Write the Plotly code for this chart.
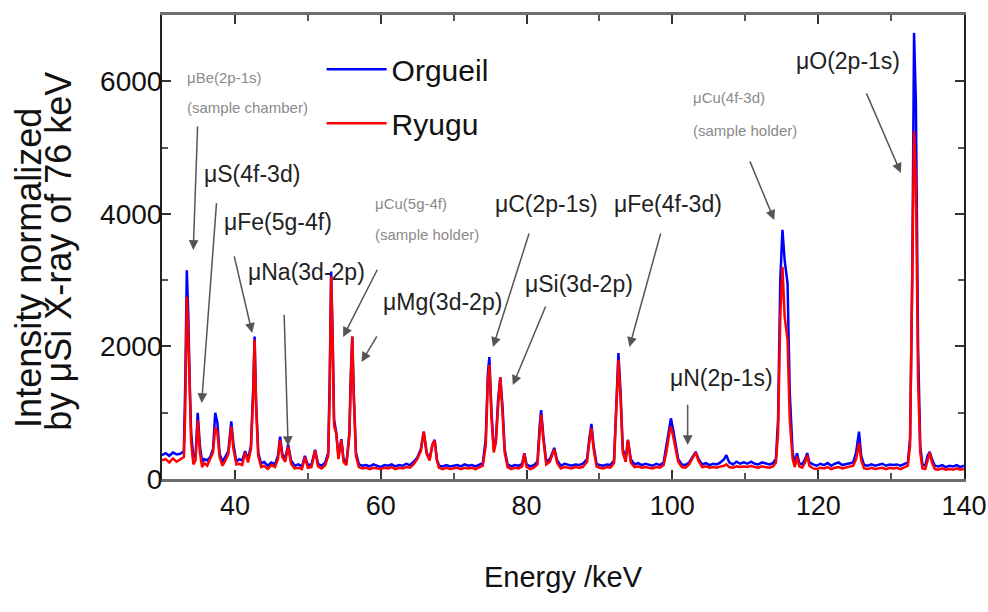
import plotly.graph_objects as go

# ---------------- data ----------------
energy = [
    30.0, 30.5, 31.0, 31.5, 32.0, 32.5, 33.0,
    33.2, 33.4, 33.6, 33.8, 34.0, 34.3, 34.6, 34.9, 35.2, 35.5, 35.8, 36.2, 36.6, 37.0,
    37.3, 37.6, 37.9, 38.3, 38.7, 39.1, 39.5, 39.8, 40.2, 40.6, 41.0, 41.4, 41.8,
    42.2, 42.5, 42.7, 42.9, 43.2, 43.6, 44.0, 44.5, 45.0, 45.5, 45.9, 46.2, 46.5, 46.9,
    47.3, 47.7, 48.2, 48.7, 49.2, 49.6, 50.0, 50.5, 51.0, 51.4, 51.9, 52.4, 52.8,
    53.0, 53.2, 53.4, 53.6, 53.9, 54.2, 54.6, 54.9, 55.3, 55.7, 55.9, 56.1, 56.3, 56.6, 57.0,
    57.5, 58.0, 58.5, 59.0, 59.5, 60.0, 60.5, 61.0, 61.5, 62.0, 62.5, 63.0, 63.5, 64.0,
    64.5, 65.0, 65.5, 65.9, 66.3, 66.7, 67.1, 67.4, 67.7, 68.0,
    68.5, 69.0, 69.5, 70.0, 70.5, 71.0, 71.5, 72.0, 72.5, 73.0, 73.5, 74.0,
    74.4, 74.7, 74.9, 75.2, 75.5, 75.8, 76.1, 76.4, 76.7, 77.0, 77.4, 77.9, 78.4, 78.9, 79.4,
    79.7, 80.0, 80.5, 81.0, 81.5, 81.8, 82.0, 82.3, 82.7, 83.2, 83.8, 84.2, 84.7, 85.2, 85.7,
    86.2, 86.7, 87.2, 87.7, 88.3, 88.6, 88.9, 89.2, 89.6, 90.0, 90.5, 91.0, 91.5,
    92.0, 92.3, 92.6, 92.9, 93.2, 93.6, 93.9, 94.3, 94.8, 95.3, 95.8, 96.3, 96.8, 97.3, 97.8,
    98.3, 98.8, 99.2, 99.6, 99.8, 100.1, 100.4, 100.8, 101.3, 101.8, 102.3, 102.8, 103.2, 103.6, 104.1,
    104.6, 105.1, 105.6, 106.1, 106.6, 107.1, 107.4, 107.8, 108.3, 108.8, 109.3, 109.8, 110.3, 110.8, 111.3,
    111.8, 112.3, 112.8, 113.3, 113.8, 114.2,
    114.5, 114.8, 115.1, 115.4, 115.8, 116.1, 116.5, 116.8, 117.1, 117.4, 117.8, 118.2, 118.5, 118.8, 119.3,
    119.8, 120.3, 120.8, 121.3, 121.8, 122.3, 122.8, 123.3, 123.8, 124.3, 124.8, 125.2, 125.6, 125.9, 126.3,
    126.8, 127.3, 127.8, 128.3, 128.8, 129.3, 129.8, 130.3, 130.8, 131.3, 131.8, 132.3,
    132.6, 132.9, 133.15, 133.4, 133.7, 134.0, 134.3, 134.7, 135.0, 135.3, 135.6, 136.0, 136.5, 137.0, 137.5,
    138.0, 138.5, 139.0, 139.5, 140.0,
]

orgueil = [
    360, 390, 350, 400, 370, 380, 420,
    1500, 3150, 2500, 1450, 700, 320, 350, 1000, 500, 260, 300, 280, 330, 450,
    1000, 850, 380, 260, 330, 420, 870, 520, 260, 300, 280, 420, 300,
    500, 1350, 2150, 1200, 400, 230, 260, 200, 250, 220, 350, 640, 380, 300,
    520, 280, 200, 220, 190, 350, 210, 220, 440, 230, 200, 250, 400,
    1500, 3130, 2200, 900, 700, 350, 600, 300, 250, 700, 1600, 2150, 1300, 400, 220,
    200, 210, 190, 220, 200, 180, 210, 200, 220, 190, 210, 200, 230, 210,
    260, 320, 450, 715, 400, 300, 520, 590, 300, 200,
    190, 210, 190, 200, 210, 190, 220, 200, 210, 190, 220, 240,
    600, 1600, 1840, 1000, 450, 600, 1200, 1535, 1100, 450, 220, 190, 210, 200, 230,
    390, 220, 190, 210, 260, 800, 1040, 650, 260, 300, 470, 280, 200, 230, 210,
    200, 220, 210, 230, 300, 600, 830, 500, 230, 210, 200, 220, 210,
    280, 1100, 1900, 1300, 450, 300, 590, 300, 220, 240, 210, 230, 220, 200, 230,
    210, 250, 500, 800, 915, 750, 550, 300, 220, 210, 250, 350, 410, 300, 220,
    240, 210, 230, 220, 250, 300, 360, 250, 220, 260, 230, 250, 230, 260, 230,
    220, 250, 230, 220, 240, 300,
    900, 3000, 3760, 3300, 2950, 1300, 400, 230, 390, 240, 220, 300, 390, 250, 220,
    200, 230, 210, 240, 200, 230, 250, 210, 220, 240, 250, 400, 715, 350, 210,
    200, 220, 200, 210, 230, 200, 220, 210, 220, 200, 220, 250,
    600, 3000, 6730, 5680, 2000, 500, 220, 200, 350, 410, 300, 200, 190, 210, 180,
    200, 190, 210, 180, 200,
]

ryugu = [
    280, 300, 250, 310, 260, 300, 330,
    1100, 2750, 2200, 1200, 550, 220, 280, 890, 400, 180, 240, 200, 290, 400,
    780, 700, 330, 200, 280, 380, 790, 450, 220, 230, 210, 400, 250,
    450, 1250, 2100, 1100, 350, 180, 200, 150, 210, 180, 300, 590, 330, 260,
    490, 230, 160, 170, 150, 330, 170, 180, 430, 190, 160, 210, 350,
    1300, 3050, 2100, 800, 690, 300, 590, 260, 210, 650, 1500, 2150, 1250, 350, 180,
    160, 170, 150, 170, 160, 150, 170, 160, 180, 150, 170, 160, 180, 170,
    220, 300, 420, 715, 380, 280, 520, 580, 280, 170,
    150, 170, 150, 160, 170, 150, 170, 160, 170, 150, 180, 200,
    500, 1500, 1720, 900, 400, 550, 1100, 1535, 1000, 400, 180, 150, 170, 160, 190,
    380, 180, 150, 170, 220, 700, 970, 600, 220, 260, 450, 240, 160, 180, 170,
    160, 180, 170, 180, 260, 550, 770, 450, 190, 170, 160, 180, 170,
    240, 1000, 1800, 1200, 400, 260, 590, 250, 180, 190, 170, 180, 170, 160, 180,
    170, 210, 420, 700, 790, 650, 480, 260, 180, 170, 220, 330, 400, 270, 180,
    190, 170, 180, 170, 190, 200, 220, 180, 170, 190, 180, 190, 180, 200, 180,
    170, 190, 180, 170, 190, 250,
    700, 2450, 3200, 2450, 2100, 900, 300, 180, 340, 190, 170, 250, 360, 200, 160,
    150, 170, 160, 180, 150, 170, 180, 160, 170, 180, 200, 300, 540, 280, 160,
    150, 170, 150, 160, 170, 150, 170, 160, 170, 150, 170, 200,
    500, 2700, 5245, 4490, 1500, 400, 160, 150, 300, 400, 250, 150, 140, 160, 140,
    150, 140, 160, 140, 150,
]

series_names = ["Orgueil", "Ryugu"]
x_title = "Energy /keV"
y_title_lines = ["Intensity normalized", "by \u03bcSi X-ray of 76 keV"]

assert len(energy) == len(orgueil) == len(ryugu)

# ---------------- styling ----------------
FONT = "Liberation Sans, Arial, sans-serif"

fig = go.Figure()
fig.add_trace(go.Scatter(x=energy, y=orgueil, mode="lines", name=series_names[0],
                         legendgroup="a", line=dict(color="#0000ff", width=2.5)))
fig.add_trace(go.Scatter(x=energy, y=ryugu, mode="lines", name=series_names[1],
                         legendgroup="b", line=dict(color="#ff0000", width=2.5)))

# peak labels: (text, x, y, anchor, size, color)
SMALL, BIG, GREY, DARK = 15, 23, "#8a8a8a", "#222"
labels = [
    ("\u03bcBe(2p-1s)", 33.15, 6051, "left", SMALL, GREY),
    ("(sample chamber)", 33.15, 5606, "left", SMALL, GREY),
    ("\u03bcS(4f-3d)", 42.4, 4602, "center", BIG, DARK),
    ("\u03bcFe(5g-4f)", 45.93, 3878, "center", BIG, DARK),
    ("\u03bcNa(3d-2p)", 49.82, 3116, "center", BIG, DARK),
    ("\u03bcCu(5g-4f)", 58.9, 4150, "left", SMALL, GREY),
    ("(sample holder)", 58.9, 3682, "left", SMALL, GREY),
    ("\u03bcMg(3d-2p)", 60.1, 2663, "left", BIG, DARK),
    ("\u03bcC(2p-1s)", 82.74, 4150, "center", BIG, DARK),
    ("\u03bcSi(3d-2p)", 87.26, 2935, "center", BIG, DARK),
    ("\u03bcFe(4f-3d)", 99.42, 4150, "center", BIG, DARK),
    ("\u03bcN(2p-1s)", 106.78, 1524, "center", BIG, DARK),
    ("\u03bcCu(4f-3d)", 102.52, 5749, "left", SMALL, GREY),
    ("(sample holder)", 102.52, 5256, "left", SMALL, GREY),
    ("\u03bcO(2p-1s)", 124.1, 6308, "center", BIG, DARK),
]

# arrows: (tail x, tail y, tip x, tip y)
arrows = [
    (34.89, 5342, 34.29, 3456),
    (37.49, 4184, 35.44, 1147),
    (39.86, 3380, 42.37, 2203),
    (46.75, 2500, 47.30, 498),
    (59.63, 3179, 54.84, 2143),
    (59.59, 2173, 57.36, 1766),
    (80.41, 3727, 75.40, 1992),
    (82.70, 2626, 78.12, 1418),
    (98.45, 3727, 94.11, 1992),
    (102.10, 1142, 102.10, 513),
    (110.55, 4814, 113.97, 3908),
    (126.53, 5840, 131.33, 4618),
]

annotations = []
for t, x, y, anc, size, col in labels:
    annotations.append(dict(text=t, x=x, y=y, xref="x", yref="y", showarrow=False,
                            xanchor=anc, yanchor="middle",
                            font=dict(family=FONT, size=size, color=col)))
for tx, ty, hx, hy in arrows:
    annotations.append(dict(text="", x=hx, y=hy, ax=tx, ay=ty, xref="x", yref="y",
                            axref="x", ayref="y", showarrow=True, arrowhead=2,
                            arrowsize=1.3, arrowwidth=1.5, arrowcolor="#555",
                            standoff=0, startstandoff=0))

# two-line y title (plot area spans page px 162..964 horizontally)
annotations.append(dict(text=y_title_lines[0], xref="paper", yref="paper",
                        x=(29 - 162) / 802, y=0.455, textangle=-90, showarrow=False,
                        xanchor="center", yanchor="middle",
                        font=dict(family=FONT, size=36, color="#111")))
annotations.append(dict(text=y_title_lines[1], xref="paper", yref="paper",
                        x=(59 - 162) / 802, y=0.49, textangle=-90, showarrow=False,
                        xanchor="center", yanchor="middle",
                        font=dict(family=FONT, size=36, color="#111")))

# plot area on the page: x 162..964, y 15..479
fig.update_layout(
    width=988, height=612,
    margin=dict(l=162, r=24, t=15, b=133),
    paper_bgcolor="white", plot_bgcolor="white",
    font=dict(family=FONT, color="#111"),
    showlegend=True,
    legend=dict(x=0.199, y=0.939, xanchor="left", yanchor="top",
                bgcolor="rgba(0,0,0,0)", font=dict(family=FONT, size=30, color="#111"),
                itemwidth=60, tracegroupgap=12),
    annotations=annotations,
)

fig.update_xaxes(
    range=[30, 140], dtick=20, tick0=0,
    ticks="inside", ticklen=9, tickwidth=2, tickcolor="#333",
    minor=dict(dtick=10, ticks="inside", ticklen=6, tickwidth=2, tickcolor="#555"),
    showline=True, linecolor="#6e6e6e", linewidth=3, mirror="ticks",
    showgrid=False, zeroline=False, automargin=False,
    tickfont=dict(family=FONT, size=27, color="#111"),
    ticklabelstandoff=1, ticklabeloverflow="allow",
    title=dict(text=x_title, font=dict(family=FONT, size=29, color="#111"), standoff=47),
)
fig.update_yaxes(
    range=[0, 7000], dtick=2000, tick0=0,
    ticks="inside", ticklen=9, tickwidth=2, tickcolor="#333",
    minor=dict(dtick=1000, ticks="inside", ticklen=6, tickwidth=2, tickcolor="#555"),
    showline=True, linecolor="#222", linewidth=2, mirror="ticks",
    showgrid=False, zeroline=False, automargin=False,
    tickfont=dict(family=FONT, size=28, color="#111"),
    ticklabelstandoff=-8,
)

# remove the default 8px page margin so the 988x612 figure fills the window exactly
fig.write_html("out.html",
               config={"displayModeBar": False},
               post_script="document.body.style.margin='0';document.body.style.overflow='hidden';")
